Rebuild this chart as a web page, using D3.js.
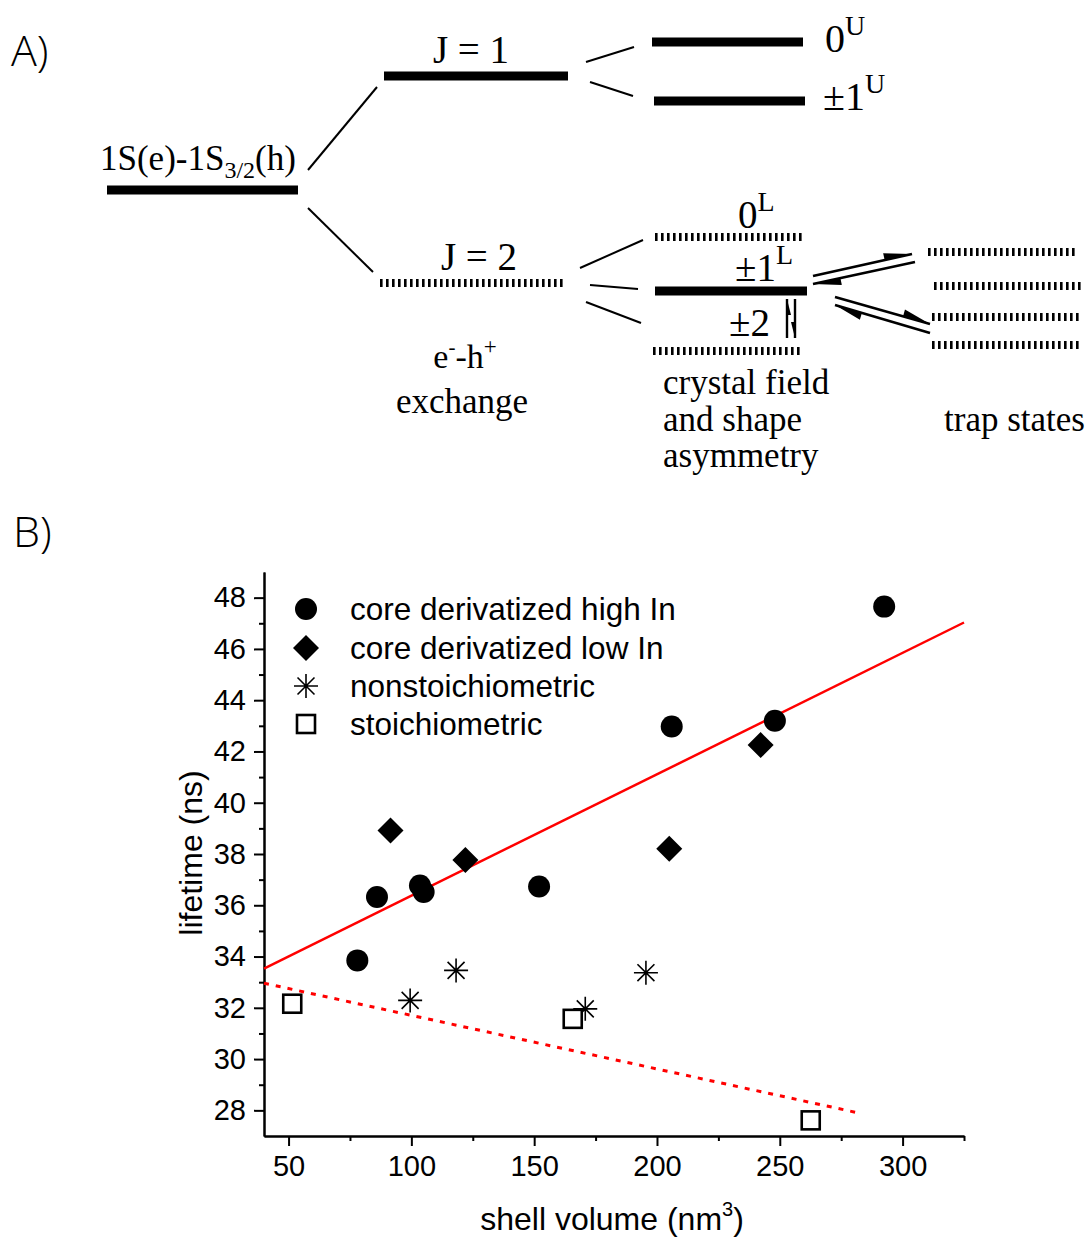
<!DOCTYPE html>
<html><head><meta charset="utf-8">
<script src="https://cdn.jsdelivr.net/npm/d3@7"></script>
<style>body{margin:0;background:#fff} svg{display:block}</style>
</head><body>
<svg id="c" width="1089" height="1237"></svg>
<script>
// ---------------- DATA (panel B) ----------------
const xTickValues = [50, 100, 150, 200, 250, 300];
const xMinorValues = [75, 125, 175, 225, 275, 325];
const yTickValues = [28, 30, 32, 34, 36, 38, 40, 42, 44, 46, 48];
const yMinorValues = [29, 31, 33, 35, 37, 39, 41, 43, 45, 47];
const seriesNames = ["core derivatized high In", "core derivatized low In", "nonstoichiometric", "stoichiometric"];
const highInX = [78, 86, 103.5, 105, 152, 206, 248, 292.5];
const highInY = [33.85, 36.32, 36.77, 36.52, 36.73, 42.97, 43.2, 47.65];
const lowInX = [91.5, 122, 205, 242.2];
const lowInY = [38.92, 37.77, 38.2, 42.25];
const nonStoX = [99.5, 118.2, 170.8, 195.5];
const nonStoY = [32.29, 33.46, 31.96, 33.37];
const stoX = [51.5, 165.7, 262.6];
const stoY = [32.16, 31.57, 27.61];
const fitHighX = [40, 325];
const fitHighY = [33.53, 47.03];
const fitStoX = [40, 283];
const fitStoY = [32.96, 27.88];
const xLabel = "shell volume (nm";
const yLabel = "lifetime (ns)";

const svg = d3.select("#c");
const SERIF = "'Liberation Serif','Times New Roman',serif";
const SANS = "'Liberation Sans',Arial,Helvetica,sans-serif";
const LABEL = "'Open Sans','Noto Sans',sans-serif";

// ---------------- PANEL A (schematic) ----------------
const A = svg.append("g");
A.append("text").attr("x", 11).attr("y", 66).attr("font-family", LABEL).attr("font-weight", 300)
  .attr("font-size", 43).text("A)");

function bar(x1, x2, y, dashed) {
  const l = A.append("line").attr("x1", x1).attr("x2", x2).attr("y1", y).attr("y2", y)
    .attr("stroke", "#000").attr("stroke-width", dashed ? 8 : 9);
  if (dashed) l.attr("stroke-dasharray", "2.6,3.4");
}
function seg(x1, y1, x2, y2, w) {
  A.append("line").attr("x1", x1).attr("y1", y1).attr("x2", x2).attr("y2", y2)
    .attr("stroke", "#000").attr("stroke-width", w || 2);
}
function harpoon(tx, ty, hx, hy, side, len, w, sw) {
  seg(tx, ty, hx, hy, sw || 2.6);
  const dx = hx - tx, dy = hy - ty, L = Math.hypot(dx, dy);
  const ux = dx / L, uy = dy / L, px = -uy * side, py = ux * side;
  len = len || 28; w = w || 7;
  const pts = [[hx, hy], [hx - ux * len, hy - uy * len], [hx - ux * len + px * w, hy - uy * len + py * w]];
  A.append("polygon").attr("points", pts.map(p => p.join(",")).join(" ")).attr("fill", "#000");
}
function txt(x, y, size, anchor) {
  return A.append("text").attr("x", x).attr("y", y).attr("font-family", SERIF)
    .attr("font-size", size).attr("text-anchor", anchor || "start");
}

// ground level
bar(107, 298, 190, false);
const t1 = txt(100, 170, 35);
t1.append("tspan").text("1S(e)-1S");
t1.append("tspan").attr("font-size", 24).attr("dy", 8).text("3/2");
t1.append("tspan").attr("dy", -8).text("(h)");
seg(308, 170, 377, 87);
seg(308, 208, 373, 272);

// J = 1 / J = 2
bar(384, 568, 76, false);
txt(471, 63, 39, "middle").text("J = 1");
bar(380, 564, 283, true);
txt(479, 270, 39, "middle").text("J = 2");
const t2 = txt(465, 368, 34, "middle");
t2.append("tspan").text("e");
t2.append("tspan").attr("font-size", 21).attr("dy", -14).text("-");
t2.append("tspan").attr("dy", 14).text("-h");
t2.append("tspan").attr("font-size", 23).attr("dy", -14).text("+");
txt(462, 413, 35, "middle").text("exchange");

// J=1 splitting
seg(586, 62, 634, 47);
seg(590, 82, 633, 96);
bar(652, 803, 42, false);
bar(654, 805, 101, false);
const t3 = txt(825, 52, 40);
t3.append("tspan").text("0");
t3.append("tspan").attr("font-size", 28).attr("dy", -17).text("U");
const t4 = txt(823, 110, 40);
t4.append("tspan").text("\u00b11");
t4.append("tspan").attr("font-size", 28).attr("dy", -17).text("U");

// J=2 splitting
seg(580, 268, 643, 240);
seg(590, 285, 638, 289);
seg(586, 302, 641, 323);
bar(655, 802, 237, true);
bar(655, 807, 291, false);
bar(653, 800, 351, true);
const t5 = txt(738, 228, 39);
t5.append("tspan").text("0");
t5.append("tspan").attr("font-size", 28).attr("dy", -17).text("L");
const t6 = txt(735, 281, 39);
t6.append("tspan").text("\u00b11");
t6.append("tspan").attr("font-size", 28).attr("dy", -17).text("L");
txt(729, 336, 39).text("\u00b12");
// small vertical harpoons (up / down)
harpoon(787, 338, 787, 299, 1, 16, 4, 2.4);
harpoon(795, 299, 795, 338, 1, 16, 4, 2.4);

// transfer to trap states
harpoon(813, 276, 912, 254, -1);
harpoon(915, 262, 813, 284, -1);
harpoon(835, 297, 930, 324, -1);
harpoon(930, 333, 835, 305, -1);

// trap states
bar(928, 1078, 252, true);
bar(934, 1082, 286, true);
bar(932, 1080, 317, true);
bar(932, 1082, 345, true);

txt(663, 394, 35).text("crystal field");
txt(663, 431, 35).text("and shape");
txt(663, 467, 35).text("asymmetry");
txt(944, 431, 35).text("trap states");

// ---------------- PANEL B (scatter) ----------------
svg.append("text").attr("x", 13).attr("y", 547).attr("font-family", LABEL).attr("font-weight", 300)
  .attr("font-size", 43).text("B)");

const x = d3.scaleLinear().domain([40, 325]).range([264, 964]);
const y = d3.scaleLinear().domain([27, 49]).range([1136, 572]);
const B = svg.append("g");

function styleAxis(g) {
  g.selectAll("path").attr("stroke", "#000").attr("stroke-width", 2);
  g.selectAll("line").attr("stroke", "#000").attr("stroke-width", 2);
  g.selectAll("text").attr("font-family", SANS).attr("font-size", 29).attr("fill", "#000");
}
const gy = B.append("g").attr("transform", `translate(${x(40)},0)`)
  .call(d3.axisLeft(y).tickValues(yTickValues).tickSize(10).tickPadding(8).tickSizeOuter(0).tickFormat(d3.format("d")));
styleAxis(gy);
const gym = B.append("g").attr("transform", `translate(${x(40)},0)`)
  .call(d3.axisLeft(y).tickValues(yMinorValues).tickSize(5).tickSizeOuter(0).tickFormat(""));
styleAxis(gym);
const gx = B.append("g").attr("transform", `translate(0,${y(27)})`)
  .call(d3.axisBottom(x).tickValues(xTickValues).tickSize(10).tickPadding(9).tickSizeOuter(0).tickFormat(d3.format("d")));
styleAxis(gx);
const gxm = B.append("g").attr("transform", `translate(0,${y(27)})`)
  .call(d3.axisBottom(x).tickValues(xMinorValues).tickSize(5).tickSizeOuter(0).tickFormat(""));
styleAxis(gxm);

// axis titles
const xt = B.append("text").attr("x", 612).attr("y", 1230).attr("text-anchor", "middle")
  .attr("font-family", SANS).attr("font-size", 32);
xt.append("tspan").text(xLabel);
xt.append("tspan").attr("font-size", 20).attr("dy", -14).text("3");
xt.append("tspan").attr("dy", 14).text(")");
B.append("text").attr("transform", "translate(202,853) rotate(-90)").attr("text-anchor", "middle")
  .attr("font-family", SANS).attr("font-size", 32).text(yLabel);

// fit lines
const line = d3.line().x(d => x(d[0])).y(d => y(d[1]));
B.append("path").datum(d3.zip(fitHighX, fitHighY)).attr("d", line)
  .attr("fill", "none").attr("stroke", "#ff0000").attr("stroke-width", 2.5);
B.append("path").datum(d3.zip(fitStoX, fitStoY)).attr("d", line)
  .attr("fill", "none").attr("stroke", "#ff0000").attr("stroke-width", 3).attr("stroke-dasharray", "5,7");

// marker drawers
const markers = [
  (g, cx, cy) => g.append("circle").attr("cx", cx).attr("cy", cy).attr("r", 11).attr("fill", "#000"),
  (g, cx, cy) => g.append("path").attr("d", `M${cx},${cy - 13}L${cx + 13},${cy}L${cx},${cy + 13}L${cx - 13},${cy}Z`).attr("fill", "#000"),
  (g, cx, cy) => {
    const r = 12, s = r * Math.SQRT1_2;
    g.append("path").attr("d",
      `M${cx - r},${cy}L${cx + r},${cy}M${cx},${cy - r}L${cx},${cy + r}M${cx - s},${cy - s}L${cx + s},${cy + s}M${cx - s},${cy + s}L${cx + s},${cy - s}`)
      .attr("stroke", "#000").attr("stroke-width", 1.6).attr("fill", "none");
  },
  (g, cx, cy) => g.append("rect").attr("x", cx - 9).attr("y", cy - 9).attr("width", 18).attr("height", 18)
    .attr("fill", "#fff").attr("stroke", "#000").attr("stroke-width", 2.6)
];
const series = [[highInX, highInY], [lowInX, lowInY], [nonStoX, nonStoY], [stoX, stoY]];
series.forEach((s, i) => {
  const g = B.append("g");
  d3.zip(s[0], s[1]).forEach(d => markers[i](g, x(d[0]), y(d[1])));
});

// legend
const legY = [609, 648, 686, 724];
seriesNames.forEach((name, i) => {
  const g = B.append("g");
  markers[i](g, 306, legY[i]);
  g.append("text").attr("x", 350).attr("y", legY[i]).attr("dy", "0.36em")
    .attr("font-family", SANS).attr("font-size", 31.5).text(name);
});
</script>
</body></html>
